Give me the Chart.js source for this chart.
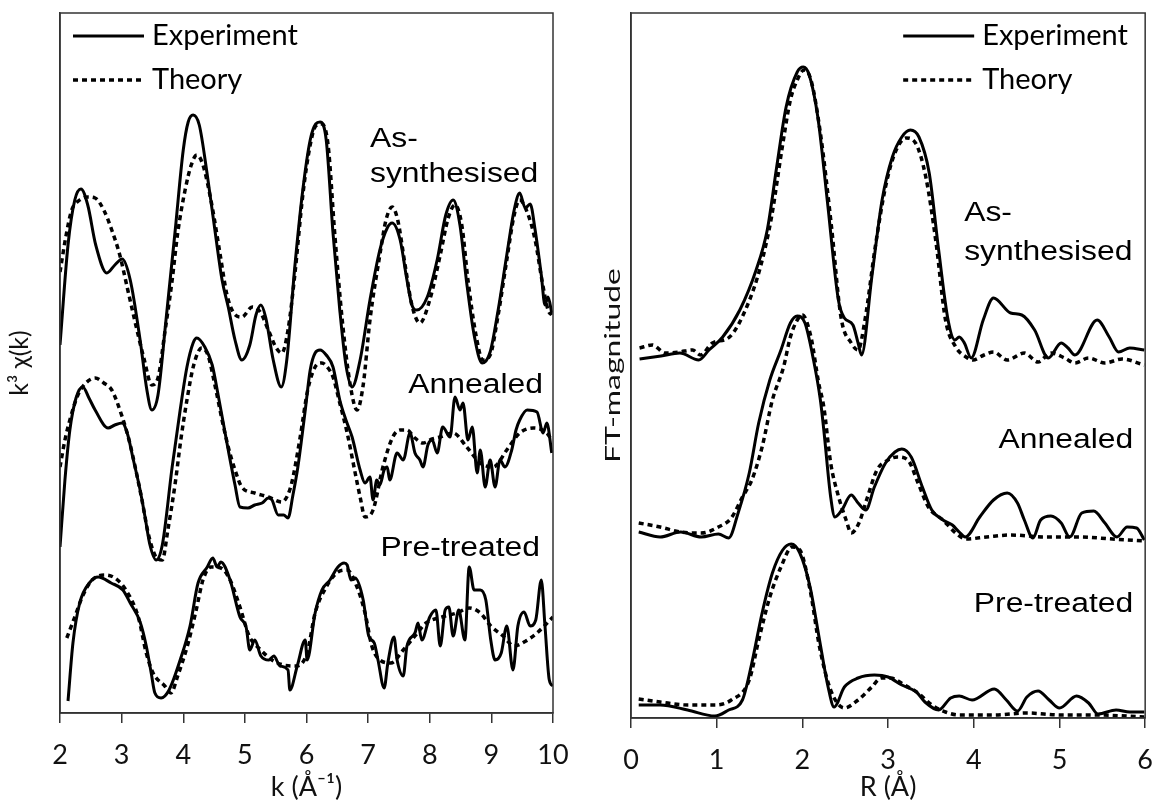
<!DOCTYPE html>
<html>
<head>
<meta charset="utf-8">
<script src="https://cdn.jsdelivr.net/npm/chart.js@4.4.1/dist/chart.umd.min.js"></script>
<style>
  html, body { margin: 0; padding: 0; background: #fff; }
  #wrap { position: relative; width: 1169px; height: 805px; }
  #kspace { position: absolute; left: 0; top: 0; }
  #rspace { position: absolute; left: 590px; top: 0; }
</style>
</head>
<body>
<div id="wrap">
  <canvas id="kspace" width="590" height="805"></canvas>
  <canvas id="rspace" width="579" height="805"></canvas>
</div>
<script>
// ---- k-space EXAFS, k^3-weighted chi(k), curves offset vertically: [k (1/Å), k^3 chi (offset, a.u.)]
const kTicks = [2, 3, 4, 5, 6, 7, 8, 9, 10];

const asSynExpK = [[2.00,3.68],[2.13,4.68],[2.24,5.13],[2.34,5.24],[2.45,5.08],[2.58,4.68],[2.76,4.40],[2.89,4.48],[3.01,4.54],[3.14,4.33],[3.30,3.73],[3.41,3.23],[3.49,3.03],[3.59,3.18],[3.72,3.93],[3.87,4.83],[4.00,5.63],[4.08,5.91],[4.16,5.98],[4.26,5.88],[4.39,5.38],[4.52,4.80],[4.63,4.33],[4.73,4.06],[4.84,3.73],[4.95,3.53],[5.08,3.68],[5.18,3.98],[5.26,4.08],[5.34,3.95],[5.46,3.53],[5.59,3.26],[5.68,3.53],[5.81,4.46],[5.94,5.23],[6.06,5.73],[6.15,5.89],[6.22,5.91],[6.32,5.73],[6.43,4.80],[6.54,4.03],[6.64,3.48],[6.74,3.26],[6.87,3.53],[7.03,4.13],[7.19,4.63],[7.31,4.85],[7.39,4.90],[7.52,4.73],[7.63,4.33],[7.71,4.08],[7.79,4.03],[7.96,4.16],[8.12,4.53],[8.26,4.98],[8.38,5.13],[8.49,4.88],[8.60,4.30],[8.72,3.78],[8.85,3.50],[8.98,3.61],[9.11,4.03],[9.25,4.58],[9.37,5.03],[9.46,5.20],[9.55,5.05],[9.63,5.09],[9.71,4.83],[9.81,4.38],[9.87,4.08],[9.92,4.16],[9.98,4.00]];
const asSynFitK = [[2.00,4.41],[2.10,4.78],[2.19,5.03],[2.32,5.13],[2.45,5.16],[2.57,5.15],[2.71,5.03],[2.84,4.83],[2.97,4.58],[3.10,4.23],[3.23,3.88],[3.36,3.55],[3.49,3.28],[3.59,3.35],[3.70,3.80],[3.82,4.33],[3.91,4.80],[4.03,5.23],[4.13,5.48],[4.22,5.58],[4.32,5.48],[4.47,5.06],[4.60,4.58],[4.71,4.18],[4.82,4.00],[4.95,3.96],[5.12,4.06],[5.25,4.01],[5.38,3.83],[5.51,3.65],[5.60,3.60],[5.70,3.83],[5.81,4.38],[5.94,5.18],[6.06,5.68],[6.15,5.87],[6.25,5.89],[6.35,5.68],[6.46,4.78],[6.58,3.93],[6.71,3.28],[6.82,3.03],[6.92,3.28],[7.03,3.93],[7.19,4.58],[7.29,4.93],[7.39,5.06],[7.48,4.93],[7.60,4.48],[7.71,4.08],[7.84,3.90],[8.00,4.13],[8.17,4.58],[8.30,4.95],[8.41,5.08],[8.52,4.88],[8.62,4.33],[8.75,3.78],[8.86,3.53],[8.98,3.58],[9.11,3.98],[9.25,4.53],[9.37,4.98],[9.46,5.13],[9.58,5.01],[9.71,4.73],[9.82,4.33],[9.92,4.03],[9.98,3.98]];

const annealedExpK = [[2.00,1.66],[2.08,2.33],[2.16,2.83],[2.26,3.15],[2.37,3.26],[2.47,3.15],[2.57,3.03],[2.78,2.85],[2.89,2.88],[3.01,2.90],[3.10,2.78],[3.18,2.56],[3.30,2.23],[3.38,1.96],[3.46,1.68],[3.56,1.53],[3.66,1.68],[3.82,2.46],[3.95,3.03],[4.06,3.46],[4.16,3.70],[4.22,3.75],[4.35,3.66],[4.47,3.48],[4.56,3.20],[4.73,2.63],[4.84,2.28],[4.92,2.06],[5.05,2.05],[5.16,2.08],[5.28,2.10],[5.38,2.15],[5.44,2.13],[5.54,1.98],[5.63,1.98],[5.70,1.95],[5.78,2.18],[5.86,2.46],[5.98,3.03],[6.06,3.43],[6.14,3.60],[6.22,3.63],[6.32,3.58],[6.43,3.46],[6.54,3.13],[6.64,2.93],[6.74,2.76],[6.87,2.43],[6.95,2.30],[7.03,2.36],[7.08,2.13],[7.14,2.33],[7.19,2.28],[7.26,2.43],[7.31,2.46],[7.35,2.33],[7.47,2.60],[7.57,2.53],[7.68,2.80],[7.76,2.60],[7.84,2.53],[7.89,2.46],[7.97,2.68],[8.04,2.73],[8.12,2.60],[8.21,2.86],[8.33,2.76],[8.41,3.16],[8.49,3.03],[8.54,3.10],[8.62,2.73],[8.69,2.86],[8.77,2.40],[8.82,2.63],[8.90,2.26],[8.98,2.53],[9.06,2.26],[9.14,2.53],[9.22,2.46],[9.33,2.63],[9.40,2.83],[9.46,2.93],[9.58,3.03],[9.74,3.01],[9.84,2.80],[9.90,2.90],[9.98,2.60]];
const annealedFitK = [[2.00,2.46],[2.08,2.73],[2.16,2.93],[2.29,3.18],[2.42,3.30],[2.57,3.35],[2.71,3.30],[2.84,3.23],[3.01,2.96],[3.12,2.73],[3.22,2.46],[3.33,2.13],[3.43,1.80],[3.54,1.58],[3.66,1.53],[3.75,1.83],[3.87,2.30],[3.96,2.73],[4.06,3.13],[4.17,3.48],[4.30,3.65],[4.40,3.58],[4.52,3.26],[4.63,2.93],[4.73,2.66],[4.84,2.43],[4.95,2.26],[5.16,2.20],[5.38,2.16],[5.60,2.11],[5.68,2.16],[5.76,2.30],[5.89,2.73],[6.02,3.23],[6.14,3.46],[6.25,3.50],[6.35,3.45],[6.43,3.36],[6.54,3.10],[6.66,2.80],[6.79,2.40],[6.87,2.16],[6.95,1.96],[7.08,2.03],[7.24,2.46],[7.40,2.76],[7.52,2.83],[7.63,2.83],[7.76,2.75],[7.89,2.70],[8.04,2.74],[8.17,2.76],[8.38,2.80],[8.60,2.66],[8.82,2.50],[9.03,2.46],[9.25,2.63],[9.46,2.80],[9.68,2.85],[9.90,2.80],[9.98,2.73]];

const preExpK = [[2.13,0.12],[2.21,0.70],[2.32,1.10],[2.49,1.31],[2.62,1.36],[2.83,1.30],[3.02,1.23],[3.14,1.10],[3.30,0.91],[3.40,0.67],[3.48,0.40],[3.54,0.20],[3.64,0.15],[3.77,0.23],[3.95,0.53],[4.11,0.87],[4.24,1.30],[4.39,1.46],[4.48,1.55],[4.55,1.46],[4.61,1.51],[4.76,1.33],[4.92,0.96],[5.02,0.86],[5.08,0.63],[5.16,0.73],[5.26,0.57],[5.39,0.53],[5.47,0.57],[5.57,0.47],[5.70,0.43],[5.73,0.23],[5.85,0.47],[5.98,0.73],[6.01,0.53],[6.14,1.00],[6.25,1.23],[6.38,1.33],[6.51,1.46],[6.61,1.50],[6.66,1.48],[6.72,1.33],[6.79,1.35],[6.92,1.13],[7.01,0.77],[7.10,0.70],[7.16,0.53],[7.26,0.25],[7.32,0.50],[7.42,0.76],[7.47,0.53],[7.57,0.37],[7.63,0.67],[7.76,0.80],[7.81,0.90],[7.87,0.73],[8.00,0.96],[8.10,1.03],[8.17,0.67],[8.25,1.03],[8.31,1.06],[8.38,0.77],[8.47,1.03],[8.57,0.73],[8.64,1.46],[8.72,1.23],[8.82,1.23],[8.91,1.13],[8.99,0.73],[9.06,0.53],[9.16,0.60],[9.25,0.87],[9.35,0.43],[9.43,0.87],[9.53,1.01],[9.63,0.87],[9.72,0.93],[9.81,1.33],[9.87,0.87],[9.94,0.33],[10.00,0.27]];
const preFitK = [[2.11,0.75],[2.24,0.96],[2.36,1.16],[2.52,1.33],[2.73,1.38],[2.89,1.35],[3.07,1.23],[3.27,0.96],[3.40,0.60],[3.51,0.40],[3.70,0.27],[3.80,0.20],[3.91,0.37],[4.08,0.70],[4.21,1.03],[4.32,1.33],[4.45,1.46],[4.61,1.45],[4.76,1.33],[4.92,1.06],[5.07,0.77],[5.26,0.63],[5.44,0.53],[5.63,0.48],[5.83,0.47],[6.01,0.60],[6.14,1.00],[6.32,1.26],[6.51,1.41],[6.66,1.43],[6.82,1.26],[6.95,1.00],[7.06,0.67],[7.19,0.53],[7.37,0.50],[7.57,0.63],[7.76,0.77],[7.94,0.90],[8.20,0.96],[8.44,1.00],[8.64,1.05],[8.82,1.00],[8.99,0.87],[9.19,0.77],[9.37,0.67],[9.56,0.72],[9.74,0.80],[10.00,0.96]];

// ---- R-space Fourier transform magnitude, curves offset vertically: [R (Å), |FT| (offset, a.u.)]
const rTicks = [0, 1, 2, 3, 4, 5, 6];

const asSynExpR = [[0.10,3.59],[0.35,3.62],[0.57,3.65],[0.79,3.58],[0.91,3.68],[1.07,3.81],[1.27,4.08],[1.46,4.48],[1.59,4.88],[1.70,5.51],[1.81,6.11],[1.94,6.46],[2.01,6.51],[2.08,6.43],[2.18,6.01],[2.29,5.18],[2.42,4.18],[2.49,4.00],[2.59,3.93],[2.65,3.75],[2.69,3.63],[2.81,4.41],[2.93,5.18],[3.05,5.61],[3.16,5.81],[3.26,5.88],[3.36,5.81],[3.48,5.45],[3.59,4.68],[3.70,3.98],[3.78,3.78],[3.83,3.81],[3.89,3.75],[3.97,3.60],[4.11,3.98],[4.23,4.20],[4.43,4.05],[4.56,4.03],[4.71,3.88],[4.87,3.60],[5.02,3.75],[5.10,3.70],[5.18,3.63],[5.44,3.98],[5.58,3.81],[5.69,3.66],[5.82,3.70],[5.99,3.68]];
const asSynFitR = [[0.10,3.70],[0.25,3.73],[0.40,3.65],[0.56,3.66],[0.72,3.68],[0.81,3.63],[0.95,3.75],[1.15,3.81],[1.35,4.11],[1.51,4.51],[1.64,5.01],[1.76,5.68],[1.86,6.18],[1.94,6.38],[2.02,6.48],[2.10,6.38],[2.21,5.85],[2.34,4.91],[2.45,4.01],[2.57,3.75],[2.65,3.68],[2.73,3.98],[2.85,4.71],[2.97,5.31],[3.08,5.65],[3.21,5.80],[3.32,5.75],[3.44,5.41],[3.56,4.75],[3.67,3.98],[3.79,3.71],[3.91,3.61],[3.99,3.58],[4.12,3.63],[4.23,3.66],[4.39,3.58],[4.59,3.65],[4.75,3.56],[4.90,3.65],[5.06,3.60],[5.18,3.55],[5.34,3.60],[5.53,3.55],[5.73,3.59],[5.99,3.53]];

const annealedExpR = [[0.09,1.86],[0.34,1.81],[0.58,1.86],[0.82,1.81],[1.02,1.84],[1.14,1.80],[1.25,2.05],[1.38,2.45],[1.49,2.95],[1.62,3.38],[1.75,3.68],[1.86,3.95],[1.94,4.02],[2.03,3.95],[2.13,3.58],[2.21,3.18],[2.25,2.88],[2.33,2.21],[2.38,2.01],[2.46,2.08],[2.57,2.23],[2.65,2.15],[2.74,2.08],[2.84,2.31],[2.97,2.55],[3.08,2.66],[3.16,2.69],[3.27,2.61],[3.40,2.31],[3.51,2.08],[3.64,1.98],[3.75,1.93],[3.83,1.86],[3.90,1.81],[4.07,2.01],[4.23,2.18],[4.39,2.25],[4.51,2.15],[4.59,1.98],[4.69,1.80],[4.78,1.98],[4.90,2.02],[5.02,1.95],[5.12,1.81],[5.26,2.05],[5.40,2.07],[5.53,1.95],[5.67,1.81],[5.79,1.91],[5.90,1.90],[5.99,1.78]];
const annealedFitR = [[0.09,1.95],[0.34,1.91],[0.58,1.86],[0.82,1.85],[1.02,1.91],[1.17,2.00],[1.30,2.21],[1.41,2.38],[1.53,2.71],[1.65,3.18],[1.78,3.51],[1.86,3.81],[1.94,3.98],[2.00,4.03],[2.10,3.81],[2.19,3.35],[2.25,3.11],[2.33,2.55],[2.41,2.25],[2.51,1.98],[2.57,1.85],[2.66,1.95],[2.76,2.21],[2.87,2.48],[3.00,2.58],[3.11,2.61],[3.23,2.58],[3.35,2.35],[3.47,2.11],[3.64,1.98],[3.79,1.85],[3.91,1.79],[4.15,1.81],[4.43,1.83],[4.83,1.81],[5.22,1.81],[5.62,1.79],[5.99,1.77]];

const preExpR = [[0.09,0.13],[0.34,0.13],[0.66,0.08],[0.98,0.02],[1.14,0.08],[1.30,0.18],[1.41,0.55],[1.53,1.05],[1.65,1.45],[1.77,1.68],[1.87,1.74],[1.97,1.65],[2.09,1.31],[2.20,0.78],[2.30,0.31],[2.37,0.11],[2.49,0.31],[2.65,0.40],[2.84,0.43],[3.00,0.41],[3.16,0.33],[3.33,0.26],[3.43,0.16],[3.59,0.08],[3.73,0.20],[3.83,0.22],[3.98,0.18],[4.24,0.29],[4.38,0.18],[4.51,0.07],[4.62,0.21],[4.75,0.27],[4.88,0.18],[5.00,0.10],[5.20,0.22],[5.34,0.15],[5.45,0.04],[5.66,0.08],[5.82,0.06],[5.99,0.06]];
const preFitR = [[0.09,0.19],[0.34,0.16],[0.66,0.13],[0.98,0.13],[1.17,0.18],[1.38,0.38],[1.49,0.78],[1.62,1.21],[1.75,1.51],[1.88,1.71],[1.97,1.68],[2.09,1.28],[2.20,0.71],[2.33,0.28],[2.49,0.10],[2.65,0.18],[2.81,0.31],[2.92,0.40],[3.03,0.40],[3.19,0.33],[3.35,0.25],[3.51,0.13],[3.67,0.06],[3.83,0.03],[4.23,0.03],[4.62,0.05],[5.02,0.03],[5.42,0.03],[5.99,0.01]];

const seriesNames = ['Experiment', 'Theory'];
const sampleNames = ['As-', 'synthesised', 'Annealed', 'Pre-treated'];

// ---------------------------------------------------------------------------
const INK = '#000';
const AXIS = '#333';
const TEXT = '#111';

function trace(label, pts, dashed) {
  return {
    label,
    data: pts.map(([x, y]) => ({ x, y })),
    borderColor: INK,
    borderWidth: dashed ? 3.5 : 3,
    borderDash: dashed ? [5, 4] : [],
    borderCapStyle: 'butt',
    pointRadius: 0,
    cubicInterpolationMode: 'monotone',
    fill: false
  };
}

// box around the plotting area
const framePlugin = {
  id: 'frame',
  afterDraw(chart) {
    const { ctx, chartArea: a } = chart;
    ctx.save();
    ctx.strokeStyle = AXIS;
    ctx.lineWidth = 1.5;
    ctx.strokeRect(a.left, a.top, a.right - a.left, a.bottom - a.top);
    ctx.restore();
  }
};

// line-style key: solid = measured, dotted = fitted
const keyPlugin = {
  id: 'key',
  afterDraw(chart, args, opts) {
    const { ctx, chartArea: a } = chart;
    const x0 = opts.side === 'left' ? a.left + 13 : a.right - 242;
    const sets = chart.data.datasets.slice(0, 2);
    sets.forEach((ds, i) => {
      const y = a.top + 23 + i * 44;
      ctx.save();
      ctx.strokeStyle = INK;
      ctx.lineWidth = ds.borderWidth;
      ctx.setLineDash(ds.borderDash);
      ctx.beginPath();
      ctx.moveTo(x0, y);
      ctx.lineTo(x0 + 71, y);
      ctx.stroke();
      ctx.setLineDash([]);
      ctx.fillStyle = INK;
      ctx.font = '29px Lato';
      ctx.textAlign = 'left';
      ctx.textBaseline = 'alphabetic';
      ctx.fillText(ds.label, x0 + 79, y + 9);
      ctx.restore();
    });
  }
};

// sample names next to each pair of curves
const sampleLabelPlugin = {
  id: 'sampleLabels',
  afterDraw(chart, args, opts) {
    const { ctx, chartArea: a } = chart;
    ctx.save();
    ctx.fillStyle = INK;
    ctx.font = '27px "Liberation Sans", Arial, sans-serif';
    ctx.textBaseline = 'alphabetic';
    opts.items.forEach(it => {
      ctx.save();
      ctx.translate(a.right + it.dx, a.top + it.dy);
      ctx.scale(1.18, 1);
      ctx.textAlign = it.align;
      ctx.fillText(it.text, 0, 0);
      ctx.restore();
    });
    ctx.restore();
  }
};

// widened vertical title for the FT axis
const ftTitlePlugin = {
  id: 'ftTitle',
  afterDraw(chart, args, opts) {
    if (!opts.text) return;
    const { ctx, chartArea: a } = chart;
    ctx.save();
    ctx.translate(a.left - 18, (a.top + a.bottom) / 2);
    ctx.rotate(-Math.PI / 2);
    ctx.scale(1.45, 1);
    ctx.fillStyle = TEXT;
    ctx.font = '22px Lato';
    ctx.textAlign = 'center';
    ctx.textBaseline = 'middle';
    ctx.fillText(opts.text, 0, 0);
    ctx.restore();
  }
};

function xAxis(min, max, ticks, title, height) {
  return {
    type: 'linear',
    min, max,
    afterBuildTicks(s) { s.ticks = ticks.map(v => ({ value: v })); },
    ticks: { color: TEXT, font: { family: 'Lato', size: 27 }, padding: 16, maxRotation: 0, autoSkip: false },
    grid: { display: true, drawOnChartArea: false, drawTicks: true, tickLength: 10, color: AXIS, lineWidth: 1.5 },
    border: { display: true, color: AXIS, width: 1.5 },
    title: { display: true, text: title, color: TEXT, font: { family: 'Lato', size: 27 }, padding: { top: 0, bottom: 2 } },
    afterFit(s) { s.height = height; }
  };
}

function yAxis(max, title, width) {
  return {
    type: 'linear',
    min: 0, max,
    ticks: { display: false },
    grid: { display: false },
    border: { display: true, color: AXIS, width: 1.5 },
    title: { display: !!title, text: title || '', color: TEXT, font: { family: 'Lato', size: 25 }, padding: { top: 5, bottom: 0 } },
    afterFit(s) { s.width = width; }
  };
}

Chart.defaults.font.family = 'Lato';

new Chart(document.getElementById('kspace'), {
  type: 'line',
  data: {
    datasets: [
      trace(seriesNames[0], asSynExpK, false),
      trace(seriesNames[1], asSynFitK, true),
      trace(seriesNames[0], annealedExpK, false),
      trace(seriesNames[1], annealedFitK, true),
      trace(seriesNames[0], preExpK, false),
      trace(seriesNames[1], preFitK, true)
    ]
  },
  options: {
    responsive: false,
    animation: false,
    devicePixelRatio: 1,
    layout: { padding: { left: 0, right: 37, top: 13, bottom: 0 } },
    scales: {
      x: xAxis(2, 10, kTicks, 'k (Å⁻¹)', 92),
      y: yAxis(7.0, 'k³ χ(k)', 60)
    },
    plugins: {
      legend: { display: false },
      tooltip: { enabled: false },
      key: { side: 'left' },
      sampleLabels: {
        items: [
          { text: sampleNames[0], dx: -183, dy: 134, align: 'left' },
          { text: sampleNames[1], dx: -183, dy: 169, align: 'left' },
          { text: sampleNames[2], dx: -10, dy: 380, align: 'right' },
          { text: sampleNames[3], dx: -13, dy: 543, align: 'right' }
        ]
      },
      ftTitle: { text: '' }
    }
  },
  plugins: [framePlugin, keyPlugin, sampleLabelPlugin, ftTitlePlugin]
});

new Chart(document.getElementById('rspace'), {
  type: 'line',
  data: {
    datasets: [
      trace(seriesNames[0], asSynExpR, false),
      trace(seriesNames[1], asSynFitR, true),
      trace(seriesNames[0], annealedExpR, false),
      trace(seriesNames[1], annealedFitR, true),
      trace(seriesNames[0], preExpR, false),
      trace(seriesNames[1], preFitR, true)
    ]
  },
  options: {
    responsive: false,
    animation: false,
    devicePixelRatio: 1,
    layout: { padding: { left: 0, right: 12, top: 13, bottom: 0 } },
    scales: {
      x: xAxis(0, 6, rTicks, 'R (Å)', 87),
      y: yAxis(7.05, '', 41)
    },
    plugins: {
      legend: { display: false },
      tooltip: { enabled: false },
      key: { side: 'right' },
      sampleLabels: {
        items: [
          { text: sampleNames[0], dx: -181, dy: 208, align: 'left' },
          { text: sampleNames[1], dx: -181, dy: 247, align: 'left' },
          { text: sampleNames[2], dx: -12, dy: 435, align: 'right' },
          { text: sampleNames[3], dx: -12, dy: 599, align: 'right' }
        ]
      },
      ftTitle: { text: 'FT-magnitude' }
    }
  },
  plugins: [framePlugin, keyPlugin, sampleLabelPlugin, ftTitlePlugin]
});
</script>
</body>
</html>
